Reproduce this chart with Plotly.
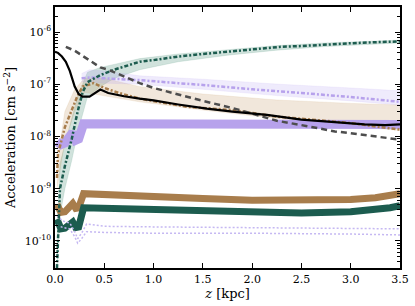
import plotly.graph_objects as go

# ---------------- data ----------------
# black solid
z_black = [0.0, 0.03, 0.07, 0.11, 0.15, 0.2, 0.24, 0.28, 0.35, 0.4, 0.46, 0.54, 0.7, 0.86, 1.0, 1.25, 1.54, 1.8, 2.15, 2.5, 2.8, 3.14, 3.35, 3.5]
a_black = [4.2e-7, 4.0e-7, 3.4e-7, 2.7e-7, 1.8e-7, 9.0e-8, 6.5e-8, 5.8e-8, 5.8e-8, 6.8e-8, 7.9e-8, 6.8e-8, 5.9e-8, 5.3e-8, 4.9e-8, 4.1e-8, 3.4e-8, 3.0e-8, 2.6e-8, 2.1e-8, 1.9e-8, 1.7e-8, 1.65e-8, 1.7e-8]

# grey dashed
z_dash = [0.11, 0.2, 0.27, 0.35, 0.46, 0.54, 0.7, 0.86, 1.0, 1.25, 1.5, 1.8, 2.25, 2.5, 2.84, 3.0, 3.25, 3.5]
a_dash = [5.2e-7, 4.4e-7, 3.6e-7, 2.9e-7, 2.1e-7, 1.9e-7, 1.4e-7, 1.05e-7, 8.5e-8, 6.3e-8, 4.8e-8, 3.5e-8, 2.0e-8, 1.65e-8, 1.25e-8, 1.15e-8, 1.0e-8, 8.7e-9]

# teal dash-dot with band
z_teal = [0.02, 0.035, 0.05, 0.1, 0.17, 0.23, 0.28, 0.33, 0.46, 0.6, 0.86, 1.0, 1.25, 1.5, 1.75, 2.0, 2.28, 2.5, 2.75, 3.0, 3.25, 3.5]
a_teal = [3e-11, 2e-10, 1e-9, 2.7e-9, 9e-9, 3e-8, 7e-8, 1.1e-7, 1.5e-7, 1.9e-7, 2.7e-7, 2.9e-7, 3.4e-7, 3.8e-7, 4.2e-7, 4.6e-7, 5.2e-7, 5.4e-7, 5.8e-7, 6.1e-7, 6.4e-7, 6.6e-7]
z_teal_band = [0.02, 0.05, 0.1, 0.17, 0.23, 0.33, 0.46, 0.6, 0.86, 1.25, 1.75, 2.25, 2.75, 3.25, 3.5]
teal_hi = [1e-10, 3e-9, 7e-9, 2.2e-8, 6e-8, 1.7e-7, 2.1e-7, 2.4e-7, 3.1e-7, 3.8e-7, 4.6e-7, 5.5e-7, 6.2e-7, 6.8e-7, 7.0e-7]
teal_lo = [3e-11, 3e-10, 1e-9, 3.5e-9, 1.2e-8, 5.8e-8, 9e-8, 1.3e-7, 1.9e-7, 2.7e-7, 3.6e-7, 4.5e-7, 5.3e-7, 5.9e-7, 6.2e-7]

# lavender dash-dot with band
z_lav = [0.27, 0.35, 0.5, 0.86, 1.25, 1.5, 2.0, 2.28, 2.5, 3.0, 3.5]
a_lav = [1.3e-7, 1.35e-7, 1.3e-7, 1.2e-7, 1.05e-7, 9.7e-8, 8.0e-8, 7.2e-8, 6.8e-8, 5.7e-8, 4.6e-8]
z_lav_band = [0.27, 0.35, 0.5, 0.86, 1.5, 2.28, 3.0, 3.5]
lav_hi = [1.6e-7, 1.9e-7, 1.8e-7, 1.45e-7, 1.25e-7, 1.0e-7, 8.5e-8, 7.5e-8]
lav_lo = [1.1e-7, 1.1e-7, 1.05e-7, 1.0e-7, 8.0e-8, 6.0e-8, 4.8e-8, 4.0e-8]

# brown dash-dot with band
z_brown = [0.02, 0.03, 0.1, 0.16, 0.22, 0.28, 0.39, 0.5, 0.65, 0.86, 1.34, 1.8, 2.25, 2.6, 3.0, 3.5]
a_brown = [1.6e-9, 4.6e-9, 1.5e-8, 3.0e-8, 5.5e-8, 9.0e-8, 1.05e-7, 8.5e-8, 6.8e-8, 5.3e-8, 3.7e-8, 3.2e-8, 2.4e-8, 2.1e-8, 1.8e-8, 1.35e-8]
z_brown_band = [0.02, 0.1, 0.2, 0.3, 0.5, 0.86, 1.5, 2.25, 3.0, 3.5]
brown_hi = [3e-9, 3e-8, 8e-8, 1.3e-7, 1.3e-7, 9e-8, 6.5e-8, 5e-8, 4.3e-8, 4e-8]
brown_lo = [1e-9, 8e-9, 3e-8, 7e-8, 6e-8, 4.6e-8, 3.2e-8, 2.2e-8, 1.6e-8, 1.3e-8]

# thick lines
z_thick = [0.02, 0.06, 0.1, 0.15, 0.18, 0.21, 0.24, 0.29, 0.5, 1.0, 1.5, 2.0, 2.5, 3.0, 3.25, 3.4, 3.5]
thick_brown = [5e-10, 3.5e-10, 3.6e-10, 4.8e-10, 5.2e-10, 4.2e-10, 4.3e-10, 8e-10, 7.8e-10, 7.2e-10, 6.5e-10, 6.0e-10, 5.9e-10, 6.2e-10, 6.7e-10, 7.4e-10, 8e-10]
thick_teal = [2.6e-10, 1.7e-10, 1.75e-10, 2.2e-10, 2.3e-10, 1.8e-10, 1.85e-10, 4.3e-10, 4.2e-10, 3.9e-10, 3.6e-10, 3.4e-10, 3.4e-10, 3.6e-10, 3.9e-10, 4.3e-10, 4.7e-10]
thick_lav = [8e-9, 7e-9, 7.5e-9, 1.1e-8, 1.2e-8, 8.5e-9, 9e-9, 1.75e-8, 1.75e-8, 1.7e-8, 1.65e-8, 1.62e-8, 1.6e-8, 1.6e-8, 1.62e-8, 1.65e-8, 1.7e-8]

# faint lavender dotted pair
z_ldot = [0.02, 0.08, 0.15, 0.2, 0.23, 0.27, 0.32, 0.5, 1.0, 2.0, 3.0, 3.5]
ldot_hi = [3e-10, 2.4e-10, 2.2e-10, 1.5e-10, 1.1e-10, 1.4e-10, 2.1e-10, 1.9e-10, 1.85e-10, 1.8e-10, 1.7e-10, 1.7e-10]
ldot_lo = [2e-10, 1.8e-10, 1.7e-10, 1.2e-10, 9e-11, 1.1e-10, 1.5e-10, 1.45e-10, 1.4e-10, 1.4e-10, 1.35e-10, 1.3e-10]

x_ticks = [0.0, 0.5, 1.0, 1.5, 2.0, 2.5, 3.0, 3.5]
x_ticktext = ["0.0", "0.5", "1.0", "1.5", "2.0", "2.5", "3.0", "3.5"]
y_ticks = [1e-10, 1e-9, 1e-8, 1e-7, 1e-6]
y_ticktext = ["10<sup>-10</sup>", "10<sup>-9</sup>", "10<sup>-8</sup>", "10<sup>-7</sup>", "10<sup>-6</sup>"]

# ---------------- colours ----------------
TEAL = "#1c5c4f"
BROWN = "#a87d4c"
LAV = "#b7a2ec"
LAV_DOT = "#c5b8f2"
DASHDOT = "4px,2px,2px,2px"

fig = go.Figure()

def band(z, lo, hi, color):
    fig.add_trace(go.Scatter(x=z, y=lo, mode="lines", line=dict(width=0.6, color=color), showlegend=False, hoverinfo="skip"))
    fig.add_trace(go.Scatter(x=z, y=hi, mode="lines", line=dict(width=0.6, color=color), fill="tonexty", fillcolor=color, showlegend=False, hoverinfo="skip"))

band(z_teal_band, teal_lo, teal_hi, "rgba(110,165,145,0.32)")
band(z_brown_band, brown_lo, brown_hi, "rgba(200,160,110,0.25)")
band(z_lav_band, lav_lo, lav_hi, "rgba(175,155,240,0.2)")

fig.add_trace(go.Scatter(x=z_thick, y=thick_lav, mode="lines", line=dict(color=LAV, width=9), showlegend=False))
fig.add_trace(go.Scatter(x=z_thick, y=thick_brown, mode="lines", line=dict(color=BROWN, width=7), showlegend=False))
fig.add_trace(go.Scatter(x=z_thick, y=thick_teal, mode="lines", line=dict(color=TEAL, width=7), showlegend=False))

fig.add_trace(go.Scatter(x=z_ldot, y=ldot_hi, mode="lines", line=dict(color=LAV_DOT, width=1.5, dash="2px,2px"), showlegend=False))
fig.add_trace(go.Scatter(x=z_ldot, y=ldot_lo, mode="lines", line=dict(color=LAV_DOT, width=1.5, dash="2px,2px"), showlegend=False))

fig.add_trace(go.Scatter(x=z_lav, y=a_lav, mode="lines", line=dict(color=LAV, width=2.5, dash=DASHDOT), showlegend=False))
fig.add_trace(go.Scatter(x=z_brown, y=a_brown, mode="lines", line=dict(color=BROWN, width=2.5, dash=DASHDOT), showlegend=False))
fig.add_trace(go.Scatter(x=z_teal, y=a_teal, mode="lines", line=dict(color=TEAL, width=2.5, dash=DASHDOT), showlegend=False))
fig.add_trace(go.Scatter(x=z_dash, y=a_dash, mode="lines", line=dict(color="#4d4d4d", width=2.5, dash="6px,4px"), showlegend=False))
fig.add_trace(go.Scatter(x=z_black, y=a_black, mode="lines", line=dict(color="black", width=2.2), showlegend=False))

minor_vals = [m * 10.0 ** e for e in range(-11, -5) for m in range(2, 10)]

fig.update_layout(
    width=415, height=306,
    margin=dict(l=55, r=15, t=5, b=38),
    paper_bgcolor="white", plot_bgcolor="white",
    font=dict(family="DejaVu Serif", size=11, color="black"),
    showlegend=False,
)
fig.update_xaxes(
    range=[0, 3.5], tickmode="array", tickvals=x_ticks, ticktext=x_ticktext,
    ticks="inside", ticklen=5, tickwidth=1, tickcolor="black",
    showline=True, linecolor="black", linewidth=1.5, mirror="ticks",
    showgrid=False, zeroline=False,
    title=dict(text="<i>z</i> [kpc]", font=dict(size=13), standoff=2),
)
fig.update_yaxes(
    type="log", range=[-10.52, -5.52], tickmode="array", tickvals=y_ticks, ticktext=y_ticktext,
    ticks="inside", ticklen=5, tickwidth=1, tickcolor="black",
    minor=dict(tickmode="array", tickvals=minor_vals, ticks="inside", ticklen=3, tickcolor="black", showgrid=False),
    showline=True, linecolor="black", linewidth=1.5, mirror="ticks",
    showgrid=False, zeroline=False,
    title=dict(text="Acceleration [cm s<sup>\u22122</sup>]", font=dict(size=13), standoff=6),
)

fig.write_html("out.html", config={"displayModeBar": False}, post_script="document.body.style.margin='0';")
